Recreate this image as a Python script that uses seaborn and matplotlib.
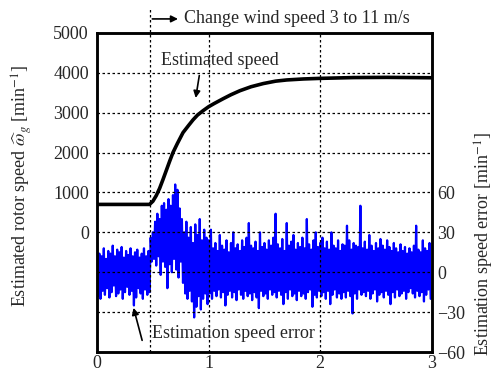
"""
Estimated rotor speed and estimation speed error (wind speed step 3 -> 11 m/s)
"""

import numpy as np
import pandas as pd
import matplotlib.pyplot as plt
import seaborn as sns

# estimated speed curve (min^-1)
speed_t = [0, 0.47, 0.50, 0.53, 0.56, 0.59, 0.62, 0.65, 0.68, 0.72, 0.77, 0.82, 0.86, 0.90, 0.95,
           1.0, 1.05, 1.13, 1.2, 1.28, 1.38, 1.49, 1.6, 1.70, 1.85, 2.0, 2.3, 2.6, 3.0]
speed_v = [700, 700, 780, 920, 1100, 1320, 1550, 1780, 2000, 2230, 2500, 2680, 2820, 2940, 3050,
           3150, 3230, 3350, 3450, 3550, 3650, 3730, 3790, 3820, 3845, 3860, 3880, 3885, 3875]

# estimation error: upper and lower swing every 0.02 s (min^-1)
err_hi = [22, 14, 12, 18, 10, 16, 14, 20, 12, 17, 15, 19, 11, 16, 13, 18, 12, 15, 17, 11, 14, 18, 12, 16,
          26, 30, 38, 44, 40, 50, 52, 47, 55, 50, 58, 66, 62, 48,
          40, 30, 38, 26, 34, 22, 36, 28, 40, 24, 32, 26,
          24, 32, 18, 22, 16, 28, 20, 17, 24, 15,
          22, 30, 18, 21, 16, 24, 19, 26, 37, 20,
          18, 23, 16, 30, 19, 22, 17, 24, 20, 26,
          44, 21, 18, 25, 16, 37, 20, 23, 28, 17,
          22, 19, 26, 18, 40, 21, 17, 24, 30, 19,
          22, 26, 18, 23, 17, 30, 20, 18, 24, 16,
          21, 20, 35, 24, 17, 22, 20, 19, 50, 18,
          23, 17, 28, 20, 16, 22, 18, 25, 20, 17,
          24, 19, 16, 22, 18, 15, 21, 16, 19, 14,
          18, 15, 20, 35, 17, 15, 24, 18, 16, 22]
err_lo = [-18, -20, -14, -17, -12, -19, -15, -10, -18, -16, -13, -20, -15, -11, -17, -14, -25, -19, -12, -16, -20, -13, -17, -15,
          8, 10, 5, 12, -2, 8, 4, -12, 6, 0, 10, 2, -4, 8,
          -8, -16, -20, -14, -22, -34, -26, -18, -28, -20, -16, -24,
          -16, -20, -14, -18, -13, -19, -15, -25, -17, -14,
          -19, -15, -21, -13, -17, -20, -14, -18, -16, -21,
          -15, -19, -27, -14, -18, -16, -20, -13, -17, -15,
          -19, -14, -17, -24, -15, -20, -13, -18, -16, -21,
          -14, -18, -16, -20, -15, -13, -26, -17, -19, -14,
          -18, -15, -20, -14, -24, -17, -13, -19, -16, -20,
          -15, -19, -14, -18, -31, -16, -20, -13, -17, -15,
          -18, -14, -20, -16, -13, -22, -17, -15, -19, -14,
          -17, -24, -15, -19, -13, -18, -16, -14, -20, -15,
          -12, -16, -19, -14, -18, -15, -22, -17, -13, -20]

left_ticks = [0, 1000, 2000, 3000, 4000, 5000]
right_ticks = [-60, -30, 0, 30, 60]
x_ticks = [0, 1, 2, 3]
t_change = 0.47

# tabelas para o seaborn
speed = pd.DataFrame({'t': speed_t, 'v': speed_v})
t_err = []
v_err = []
for i in range(len(err_hi)):
    t_err += [0.02 * i, 0.02 * i + 0.01]
    v_err += [err_hi[i], err_lo[i]]
err = pd.DataFrame({'t': t_err, 'v': v_err})

sns.set_style("white")
plt.rcParams['font.family'] = ['Liberation Serif', 'DejaVu Serif']
plt.rcParams['mathtext.fontset'] = 'stix'
fs = 13

fig = plt.figure(figsize=(4.98, 3.75), dpi=100)
ax = fig.add_axes([0.195, 0.0613, 0.672, 0.851])
ax2 = ax.twinx()

# speed on left axis
sns.lineplot(data=speed, x='t', y='v', ax=ax, color='black', linewidth=2.6, zorder=3)
ax.set_xlim(0, 3)
ax.set_ylim(-3000, 5000)

# error on right axis
sns.lineplot(data=err, x='t', y='v', ax=ax2, color='blue', linewidth=1.6, estimator=None, zorder=2)
ax2.set_ylim(-60, 180)

# grade pontilhada
for y in range(-2000, 5000, 1000):
    ax.axhline(y, color='black', lw=0.9, ls=(0, (2, 2)), zorder=1)
for x in [1, 2]:
    ax.axvline(x, color='black', lw=0.9, ls=(0, (2, 2)), zorder=1)
ax.plot([t_change, t_change], [-3000, 5600], color='black', lw=0.9, ls=(0, (2, 2)), clip_on=False, zorder=1)

# axes
ax.set_xticks(x_ticks)
ax.set_xticklabels([str(v) for v in x_ticks], fontsize=fs)
ax.set_yticks(left_ticks)
ax.set_yticklabels([str(v) for v in left_ticks], fontsize=fs)
ax2.set_yticks(right_ticks)
ax2.set_yticklabels([str(v).replace('-', '\u2212') for v in right_ticks], fontsize=fs)
ax.tick_params(axis='y', length=0, pad=6)
ax.tick_params(axis='x', length=0, pad=2)
ax2.tick_params(length=0, pad=4)
ax.set_xlabel('')
ax.set_ylabel(r'Estimated rotor speed $\widehat{\omega}_g$ [min$^{-1}$]', fontsize=fs)
ax.yaxis.set_label_coords(-0.19, 0.52)
ax2.set_ylabel(r'Estimation speed error [min$^{-1}$]', fontsize=fs)
ax2.yaxis.set_label_coords(1.123, 0.34)
for a in (ax, ax2):
    for s in a.spines.values():
        s.set_linewidth(1.8)
        s.set_color('black')
ax.set_zorder(ax2.get_zorder() + 1)
ax.patch.set_visible(False)

# anotações
ax.annotate('', xy=(0.75, 5350), xytext=(t_change, 5350),
            arrowprops=dict(arrowstyle='-|>', color='black', lw=1.2), annotation_clip=False)
ax.text(0.78, 5350, 'Change wind speed 3 to 11 m/s', fontsize=fs, va='center', ha='left', clip_on=False)
ax.text(1.10, 4300, 'Estimated speed', fontsize=fs, va='center', ha='center')
ax.annotate('', xy=(0.88, 3300), xytext=(0.92, 4000),
            arrowprops=dict(arrowstyle='-|>', color='black', lw=1.2))
ax.text(0.49, -2525, 'Estimation speed error', fontsize=fs, va='center', ha='left')
ax.annotate('', xy=(0.32, -1825), xytext=(0.41, -2775),
            arrowprops=dict(arrowstyle='-|>', color='black', lw=1.2))

fig.savefig('out.png', dpi=100)
